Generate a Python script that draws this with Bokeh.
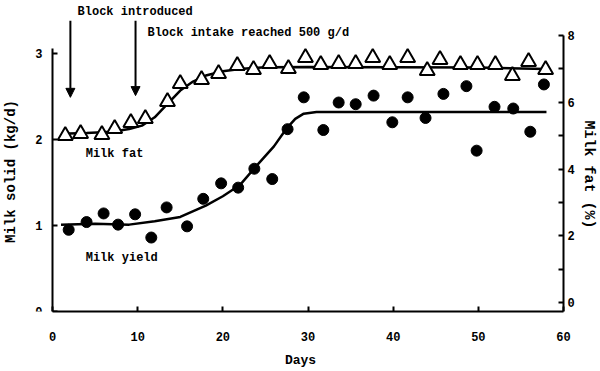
from math import pi
from bokeh.plotting import figure
from bokeh.models import Range1d, LinearAxis, FixedTicker, Label, Arrow, NormalHead
from bokeh.embed import file_html
from bokeh.resources import INLINE

# ---- data ----
fat_days = [1.5, 3.3, 5.8, 7.3, 9.2, 10.9, 13.5, 15.0, 17.5, 19.5, 21.7, 23.6, 25.5, 27.7,
            29.7, 31.5, 33.6, 35.6, 37.6, 39.6, 41.7, 44.0, 45.5, 47.9, 49.9, 52.0, 54.0, 55.9, 57.9]
fat_pct = [5.0, 5.06, 5.03, 5.21, 5.39, 5.51, 6.02, 6.56, 6.68, 6.86, 7.10, 6.98, 7.16, 7.01,
           7.34, 7.13, 7.16, 7.16, 7.34, 7.13, 7.34, 6.95, 7.28, 7.13, 7.13, 7.13, 6.80, 7.22, 6.98]

yield_days = [1.9, 4.0, 6.0, 7.7, 9.7, 11.6, 13.4, 15.8, 17.7, 19.8, 21.8, 23.7, 25.8, 27.6,
              29.5, 31.8, 33.6, 35.6, 37.7, 39.9, 41.7, 43.8, 45.9, 48.6, 49.8, 51.9, 54.1, 56.1, 57.7]
yield_kg = [0.95, 1.04, 1.14, 1.01, 1.13, 0.86, 1.21, 0.99, 1.31, 1.49, 1.44, 1.66, 1.54, 2.12,
            2.49, 2.11, 2.43, 2.41, 2.51, 2.20, 2.49, 2.25, 2.53, 2.62, 1.87, 2.38, 2.36, 2.09, 2.64]

fat_curve_days = [1, 4, 7, 9, 10.5, 12, 13.5, 15, 16.5, 18, 20, 22, 25, 30, 40, 50, 58]
fat_curve_pct = [5.06, 5.08, 5.12, 5.2, 5.3, 5.55, 5.95, 6.35, 6.62, 6.8, 6.93, 7.0, 7.05, 7.06, 7.05, 7.04, 7.0]

yield_curve_days = [1, 5, 9, 12, 15, 18, 20, 22, 24, 26, 27.5, 28.5, 29.5, 31, 40, 58]
yield_curve_kg = [1.01, 1.02, 1.01, 1.05, 1.10, 1.23, 1.34, 1.47, 1.70, 1.92, 2.13, 2.24, 2.30, 2.32, 2.32, 2.32]

x_ticks = [0, 10, 20, 30, 40, 50, 60]
left_ticks = [0, 1, 2, 3]
right_major = [0, 2, 4, 6, 8]
right_minor = [1, 3, 5, 7]

FONT = "Liberation Mono"

p = figure(width=600, height=371, x_range=Range1d(-6.106, 64.344), y_range=Range1d(0, 3.616),
           output_backend="svg", toolbar_location=None,
           min_border_left=0, min_border_right=0, min_border_top=0, min_border_bottom=60)
p.extra_y_ranges = {"fat": Range1d(-0.27, 9.05)}
p.outline_line_color = None
p.grid.visible = False
p.background_fill_color = "white"
p.border_fill_color = "white"

def style_axis(ax):
    ax.axis_line_width = 2
    ax.axis_line_color = "black"
    ax.major_tick_in = 5
    ax.major_tick_out = 0
    ax.major_tick_line_width = 2
    ax.minor_tick_line_color = None
    ax.major_label_text_font = FONT
    ax.major_label_text_font_style = "bold"
    ax.major_label_text_font_size = "12px"
    ax.major_label_text_color = "black"
    ax.axis_label_text_font = FONT
    ax.axis_label_text_font_style = "bold"
    ax.axis_label_text_font_size = "13px"
    ax.axis_label_text_color = "black"

xa = p.xaxis[0]
xa.ticker = FixedTicker(ticks=x_ticks)
style_axis(xa)
xa.bounds = (0, 60)
xa.major_label_standoff = 20
xa.axis_label = "Days"
xa.axis_label_standoff = 9

ya = p.yaxis[0]
ya.fixed_location = 0
ya.ticker = FixedTicker(ticks=left_ticks)
style_axis(ya)
ya.bounds = (0, 3.06)
ya.major_label_standoff = 10

ra = LinearAxis(y_range_name="fat", fixed_location=60,
                ticker=FixedTicker(ticks=right_major, minor_ticks=right_minor))
style_axis(ra)
ra.bounds = (-0.27, 8)
ra.minor_tick_line_color = "black"
ra.minor_tick_line_width = 2
ra.minor_tick_in = 5
ra.minor_tick_out = 0
ra.major_label_standoff = 4
p.add_layout(ra, "right")

# curves
p.line(fat_curve_days, fat_curve_pct, y_range_name="fat", line_color="black", line_width=2.5)
p.line(yield_curve_days, yield_curve_kg, line_color="black", line_width=2.5)

# points
p.scatter(yield_days, yield_kg, marker="circle", size=11, fill_color="black", line_color="black")
p.scatter(fat_days, fat_pct, y_range_name="fat", marker="triangle", size=15,
          fill_color="white", line_color="black", line_width=2)

# annotations
for xa_day, y_end in [(2.1, 2.49), (9.75, 2.51)]:
    p.add_layout(Arrow(end=NormalHead(size=9, fill_color="black", line_color="black"),
                       x_start=xa_day, y_start=3.38, x_end=xa_day, y_end=y_end,
                       line_width=2, line_color="black"))

def lab(x, y, text, size="12px", **kw):
    p.add_layout(Label(x=x, y=y, text=text, text_font=FONT, text_font_style="bold",
                       text_font_size=size, text_color="black", text_baseline="middle", **kw))

lab(2.94, 3.477, "Block introduced")
lab(11.15, 3.233, "Block intake reached 500 g/d")
lab(3.9, 1.83, "Milk fat")
lab(3.9, 0.62, "Milk yield")
lab(-4.93, 1.628, "Milk solid (kg/d)", size="14px", angle=pi / 2, text_align="center")
lab(62.88, 3.835, "Milk fat (%)", size="15px", angle=-pi / 2, text_align="center",
    y_range_name="fat")

open("out.html", "w").write(file_html(p, INLINE))
